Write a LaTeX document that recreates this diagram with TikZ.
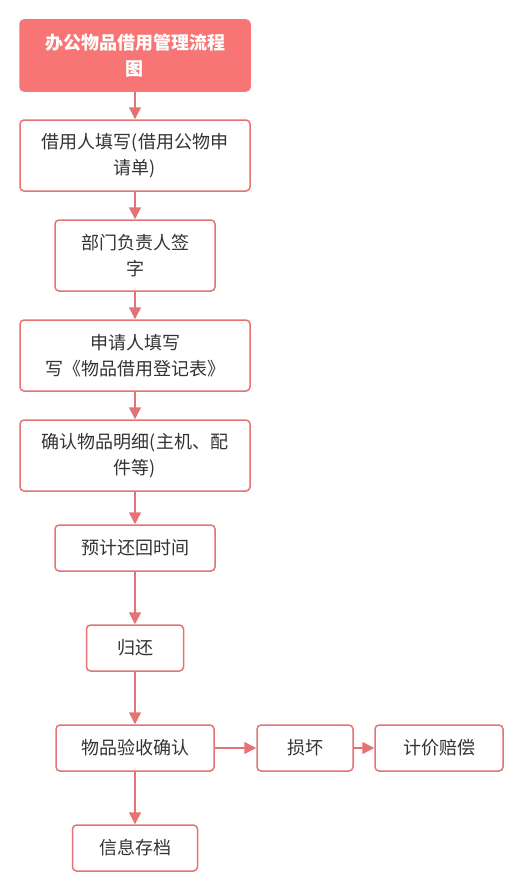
\documentclass[tikz,border=0pt]{standalone}
\usepackage{fontspec}
\setmainfont{Noto Sans CJK SC}
\usetikzlibrary{arrows.meta}
\definecolor{fillred}{HTML}{F77575}
\definecolor{edgered}{HTML}{E67373}
\definecolor{txt}{HTML}{333333}
\tikzset{
  box/.style={draw=edgered, line width=1.5pt, rounded corners=4pt, fill=white,
    align=center, inner sep=0pt, text=txt,
    font=\fontsize{18}{26.5}\selectfont},
  titlebox/.style={box, fill=fillred, draw=fillred, text=white,
    font=\fontsize{18}{26.5}\selectfont\bfseries},
  flow/.style={draw=edgered, line width=1.5pt, -{Triangle[length=12pt,width=12pt]}},
}
\begin{document}
\begin{tikzpicture}[x=1pt,y=-1pt]
\useasboundingbox (0,0) rectangle (529,891);
\node[titlebox, minimum width=230pt, minimum height=71pt] (t) at (135,55.5) {办公物品借用管理流程\\图};
\node[box, minimum width=230pt, minimum height=71pt] (n1) at (135,155.5) {借用人填写(借用公物申\\请单)};
\node[box, minimum width=160pt, minimum height=71pt] (n2) at (135,255.5) {部门负责人签\\字};
\node[box, minimum width=230pt, minimum height=71pt] (n3) at (135,355.5) {申请人填写\\写《物品借用登记表》};
\node[box, minimum width=230pt, minimum height=71pt] (n4) at (135,455.5) {确认物品明细(主机、配\\件等)};
\node[box, minimum width=160pt, minimum height=46pt] (n5) at (135,548) {预计还回时间};
\node[box, minimum width=97pt, minimum height=46pt] (n6) at (135,648) {归还};
\node[box, minimum width=158pt, minimum height=46pt] (n7) at (135,748) {物品验收确认};
\node[box, minimum width=96pt, minimum height=46pt] (n8) at (305,748) {损坏};
\node[box, minimum width=128pt, minimum height=46pt] (n9) at (439,748) {计价赔偿};
\node[box, minimum width=125pt, minimum height=46pt] (n10) at (135,848) {信息存档};
\draw[flow] (t) -- (n1);
\draw[flow] (n1) -- (n2);
\draw[flow] (n2) -- (n3);
\draw[flow] (n3) -- (n4);
\draw[flow] (n4) -- (n5);
\draw[flow] (n5) -- (n6);
\draw[flow] (n6) -- (n7);
\draw[flow] (n7) -- (n8);
\draw[flow] (n8) -- (n9);
\draw[flow] (n7) -- (n10);
\end{tikzpicture}
\end{document}
